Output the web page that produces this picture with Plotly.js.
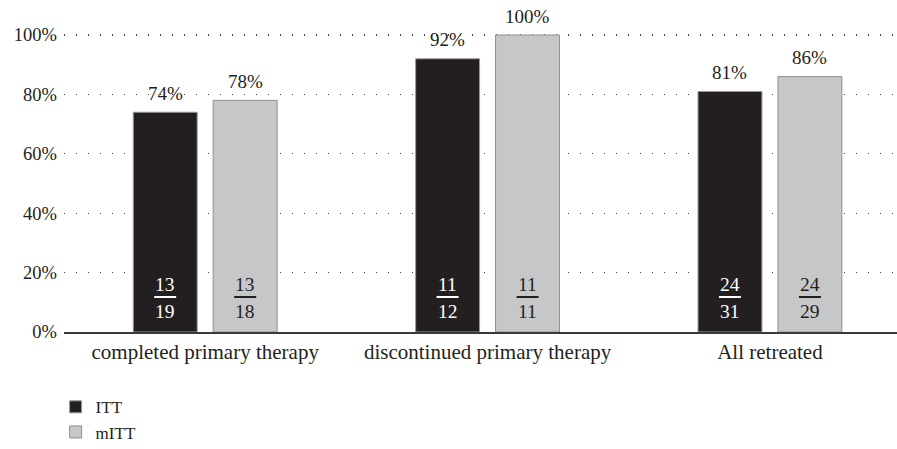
<!DOCTYPE html>
<html>
<head>
<meta charset="utf-8">
<script src="https://cdn.plot.ly/plotly-3.0.1.min.js"></script>
<style>html,body{margin:0;padding:0;background:#fff;}#chart{width:897px;height:449px;}</style>
</head>
<body>
<div id="chart"></div>
<script>
const categories = ['completed primary therapy', 'discontinued primary therapy', 'All retreated'];
const ittValues = [74, 92, 81];
const mittValues = [78, 100, 86];
const ittNumerators = [13, 11, 24];
const ittDenominators = [19, 12, 31];
const mittNumerators = [13, 11, 24];
const mittDenominators = [18, 11, 29];
const yTicks = [0, 20, 40, 60, 80, 100];

const FONT = 'Liberation Serif, DejaVu Serif, serif';
const DARK = '#231f20';
const LIGHT = '#c6c7c9';

const traces = [
  {
    type: 'bar', name: 'ITT', x: categories, y: ittValues,
    marker: {color: DARK, line: {color: '#9a9a9a', width: 1}}, hoverinfo: 'skip'
  },
  {
    type: 'bar', name: 'mITT', x: categories, y: mittValues,
    marker: {color: LIGHT, line: {color: '#8f8f8f', width: 1}}, hoverinfo: 'skip'
  }
];

const annotations = [];
const shapes = [];
const groups = [
  {vals: ittValues, num: ittNumerators, den: ittDenominators, shift: -40, color: '#ffffff'},
  {vals: mittValues, num: mittNumerators, den: mittDenominators, shift: 40, color: '#231f20'}
];
groups.forEach(g => {
  categories.forEach((c, i) => {
    annotations.push({x: c, y: g.vals[i], xref: 'x', yref: 'y', xshift: g.shift, yshift: 19,
      text: g.vals[i] + '%', showarrow: false, font: {family: FONT, size: 19, color: '#231f20'}});
    annotations.push({x: c, y: 0, xref: 'x', yref: 'y', xshift: g.shift, yshift: 48,
      text: String(g.num[i]), showarrow: false, font: {family: FONT, size: 19.5, color: g.color}});
    annotations.push({x: c, y: 0, xref: 'x', yref: 'y', xshift: g.shift, yshift: 21,
      text: String(g.den[i]), showarrow: false, font: {family: FONT, size: 19.5, color: g.color}});
    shapes.push({type: 'line', xref: 'x', yref: 'y', xsizemode: 'pixel', ysizemode: 'pixel',
      xanchor: i, yanchor: 0, x0: g.shift - 11, x1: g.shift + 11, y0: 35, y1: 35,
      line: {color: g.color, width: 2}});
  });
});

const layout = {
  width: 897, height: 449,
  margin: {l: 64, r: 0, t: 34, b: 117, autoexpand: false},
  paper_bgcolor: '#fff', plot_bgcolor: '#fff',
  font: {family: FONT, color: '#231f20', size: 18},
  barmode: 'group', bargap: 0.434, bargroupgap: 0.2,
  showlegend: true,
  legend: {orientation: 'v', xref: 'container', yref: 'container', x: 0.062, y: 0.133,
    xanchor: 'left', yanchor: 'top', font: {family: FONT, size: 17, color: '#231f20'},
    traceorder: 'normal', itemwidth: 30},
  xaxis: {type: 'category', range: [-0.5, 2.45], showgrid: false, zeroline: false,
    showline: true, linecolor: '#3a3a3a', linewidth: 1.5, ticks: '', automargin: false,
    tickfont: {family: FONT, size: 21, color: '#231f20'}, fixedrange: true},
  yaxis: {range: [0, 100.34], tickvals: yTicks, ticktext: yTicks.map(v => v + '%'),
    showgrid: true, gridcolor: '#444', gridwidth: 1.3, griddash: '1.3px,10.7px',
    zeroline: false, showline: false, ticks: '', ticklabelstandoff: 6, automargin: false,
    tickfont: {family: FONT, size: 18.5, color: '#231f20'}, fixedrange: true},
  annotations: annotations,
  shapes: shapes
};

Plotly.newPlot('chart', traces, layout, {displayModeBar: false, staticPlot: true});
</script>
</body>
</html>
